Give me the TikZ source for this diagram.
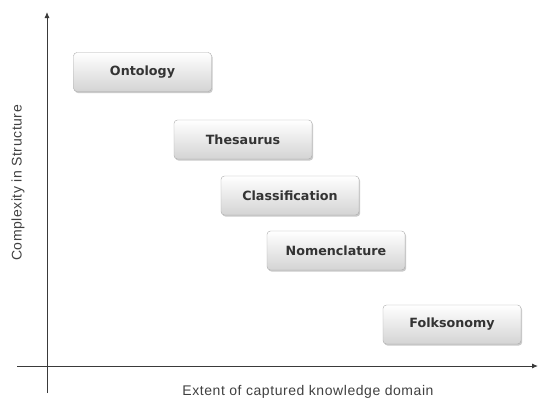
\documentclass[tikz,border=0pt]{standalone}
\usepackage{fontspec}
\usetikzlibrary{shadows,arrows.meta}
\newfontfamily\boxfont{DejaVu Sans}
\newfontfamily\axisfont[LetterSpace=4]{Liberation Sans}
\definecolor{boxline}{HTML}{ABABAB}
\definecolor{boxtext}{HTML}{333333}
\definecolor{axisline}{HTML}{3A3A3A}
\begin{document}
\begin{tikzpicture}[x=1pt,y=-1pt,
    kind/.style={draw=boxline,rounded corners=3.5pt,top color=white,bottom color=black!17,
      minimum width=138pt,minimum height=39pt,inner sep=0pt,text=boxtext,
      font=\boxfont\bfseries\fontsize{12.7}{15}\selectfont,
      drop shadow={shadow xshift=1.2pt,shadow yshift=-1.6pt,fill=black!35,opacity=0.6}},
    axis/.style={axisline,line width=0.9pt,-{Latex[length=6pt,width=5pt]}},
    axislabel/.style={text=black!75,font=\axisfont\fontsize{14}{16}\selectfont}]
  \useasboundingbox (0,0) rectangle (540,405);
  \coordinate (ybot) at (47,393);
  \coordinate (ytop) at (47,12);
  \coordinate (xleft) at (17,366);
  \coordinate (xright) at (538,366);
  \draw[axis] (ybot) -- (ytop);
  \draw[axis] (xleft) -- (xright);
  \node[axislabel,rotate=90] (ylabel) at (18,183) {Complexity in Structure};
  \node[axislabel] (xlabel) at (308,392) {Extent of captured knowledge domain};
  \node[kind] (ontology) at (142.5,72) {Ontology};
  \node[kind] (thesaurus) at (243,139.5) {Thesaurus};
  \node[kind] (classification) at (290,195.5) {Classification};
  \node[kind] (nomenclature) at (336,250.5) {Nomenclature};
  \node[kind] (folksonomy) at (452,324.5) {Folksonomy};
\end{tikzpicture}
\end{document}
